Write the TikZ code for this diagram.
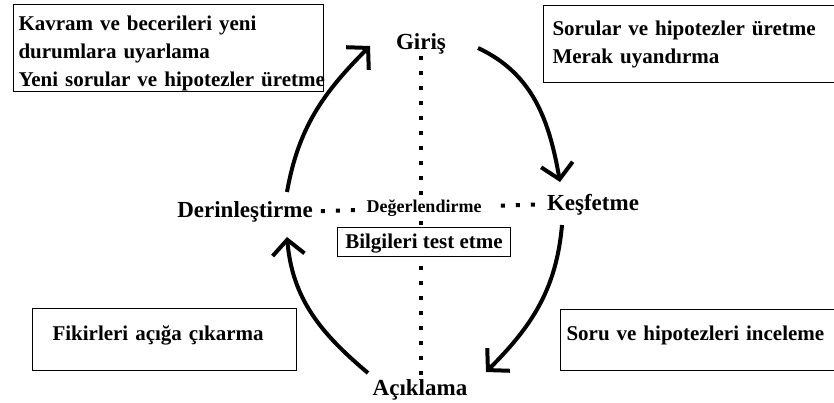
\documentclass[tikz,border=0pt]{standalone}
\usepackage{fontspec}
\setmainfont{Liberation Serif}
\usetikzlibrary{arrows.meta,positioning}

\begin{document}
\begin{tikzpicture}[
  x=1pt,y=1pt,
  stage/.style={font=\fontsize{23}{28}\selectfont\bfseries,inner sep=1pt,anchor=base},
  panel/.style={draw,line width=1pt,anchor=north west,align=left,inner ysep=0pt,
    font=\fontsize{21}{28}\selectfont\bfseries},
  cycle/.style={line width=4pt,-{Straight Barb[length=15pt,width=32pt]}},
  dotline/.style={line width=4pt,dash pattern=on 4pt off 11pt}
]
  \useasboundingbox (0,0) rectangle (834,402);

  \node[stage] (giris) at (421,352) {Giriş};
  \node[stage] (kesif) at (593,192) {Keşfetme};
  \node[stage] (acik) at (420,7) {Açıklama};
  \node[stage] (derin) at (245,185) {Derinleştirme};

  \draw[dotline] (giris.south) -- (giris.south |- acik.north);
  \draw[dotline,shorten <=7pt,shorten >=6pt] (derin.east) -- (kesif.west);

  \node[anchor=base,fill=white,inner xsep=10pt,inner ysep=3pt,font=\fontsize{18}{22}\selectfont\bfseries]
    (deger) at (424,190) {Değerlendirme};
  \node[draw,fill=white,line width=1pt,anchor=north,inner xsep=8pt,inner ysep=0pt,
    text height=21pt,text depth=8pt,font=\fontsize{21}{28}\selectfont\bfseries,
    below=8pt of deger] (test) {Bilgileri test etme};

  \node[panel,inner xsep=5pt,text width=300pt,text height=26pt,text depth=61pt] (uyarla) at (13,398)
    {Kavram ve becerileri yeni\\durumlara uyarlama\\\mbox{Yeni sorular ve hipotezler üretme}};
  \node[panel,inner xsep=9pt,text width=290pt,text height=30pt,text depth=47pt] (merak) at (543,397)
    {Sorular ve hipotezler üretme\\Merak uyandırma};
  \node[panel,inner xsep=20pt,text width=224pt,text height=32pt,text depth=30pt] (fikir) at (32,94)
    {Fikirleri açığa çıkarma};
  \node[panel,inner xsep=6pt,text width=280pt,text height=31pt,text depth=30pt] (inceleme) at (560,93)
    {Soru ve hipotezleri inceleme};

  \draw[cycle] ([shift={(42,25)}]derin.base) to[out=80,in=225] ([shift={(-51,4)}]giris.base);
  \draw[cycle] ([shift={(57,2)}]giris.base) to[out=-25,in=100] ([shift={(-33,28)}]kesif.base);
  \draw[cycle] ([shift={(-31,-15)}]kesif.base) to[out=-95,in=45] ([shift={(66,23)}]acik.base);
  \draw[cycle] ([shift={(-52,22)}]acik.base) to[out=140,in=-85] ([shift={(42,-20)}]derin.base);
\end{tikzpicture}
\end{document}
